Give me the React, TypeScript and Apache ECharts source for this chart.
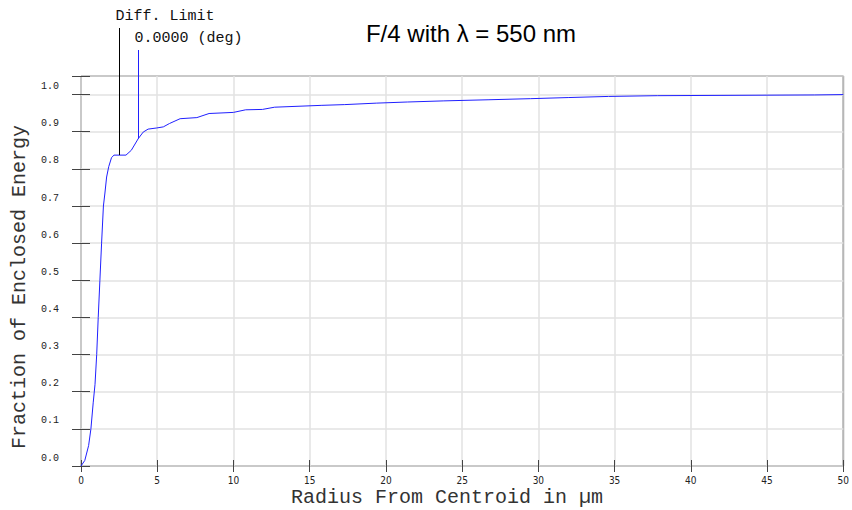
import React, { useEffect, useRef } from "react";
import * as echarts from "echarts";

// Radius from centroid (µm) and fraction of enclosed energy
const radius = [
  0, 0.25, 0.5, 0.65, 0.8, 0.92, 1.03, 1.13, 1.24, 1.35, 1.47, 1.57, 1.68, 1.82,
  2.0, 2.16, 2.5, 2.95, 3.3, 3.75, 4.08, 4.4, 4.95, 5.4, 5.8, 6.5, 7.6, 8.4,
  10.0, 10.8, 11.9, 12.7, 15.8, 17.3, 19.4, 21.4, 23.8, 26.7, 29.5, 32.0, 34.6,
  37.8, 48.1, 50,
];
const energy = [
  0, 0.015, 0.055, 0.1, 0.17, 0.22, 0.3, 0.4, 0.5, 0.6, 0.7, 0.735, 0.778, 0.806,
  0.83, 0.837, 0.837, 0.837, 0.85, 0.881, 0.899, 0.907, 0.91, 0.913, 0.922, 0.935,
  0.938, 0.949, 0.952, 0.959, 0.96, 0.966, 0.971, 0.973, 0.977, 0.98, 0.983, 0.986,
  0.989, 0.992, 0.995, 0.997, 0.999, 1.0,
];

// Markers: diffraction limit and field angle
const markerRadius = [2.5, 3.75];
const markerEnergy = [0.837, 0.881];
const markerLabels = ["Diff. Limit", "0.0000 (deg)"];
const markerColors = ["#000000", "#2020ff"];

const chartTitle = "F/4 with \u03bb = 550 nm";
const xTitle = "Radius From Centroid in \u00b5m";
const yTitle = "Fraction of Enclosed Energy";

const X_MIN = 0, X_MAX = 50, X_STEP = 5;
const Y_MIN = 0, Y_MAX = 1.05, Y_STEP = 0.1;

const MONO = '"Liberation Mono", "DejaVu Sans Mono", monospace';

export default function App() {
  const ref = useRef<HTMLDivElement>(null);
  useEffect(() => {
    const chart = echarts.init(ref.current!, undefined, { renderer: "svg" });
    const tickStyle = { color: "#444", width: 1 };
    const splitStyle = { lineStyle: { color: "#e2e2e2", width: 1.5 } };
    const markerTop = [28, 50];
    const markerTextY = [16, 38];
    chart.setOption({
      animation: false,
      backgroundColor: "#ffffff",
      grid: {
        left: 81, top: 76, width: 764, height: 390,
        show: true, borderColor: "#000", borderWidth: 1, backgroundColor: "transparent",
      },
      xAxis: [
        {
          type: "value", min: X_MIN, max: X_MAX, interval: X_STEP, position: "bottom",
          axisLine: { show: false },
          axisTick: { show: true, inside: true, length: 6, lineStyle: tickStyle },
          splitLine: { show: true, ...splitStyle },
          axisLabel: {
            margin: 9, fontSize: 10, color: "#222",
            fontFamily: '"DejaVu Sans Condensed", "Liberation Sans", sans-serif',
          },
        },
        {
          type: "value", min: X_MIN, max: X_MAX, interval: X_STEP, position: "top",
          axisLine: { show: false },
          axisTick: { show: true, inside: true, length: 6, lineStyle: tickStyle },
          splitLine: { show: false },
          axisLabel: { show: false },
        },
      ],
      yAxis: [
        {
          type: "value", min: Y_MIN, max: Y_MAX, interval: Y_STEP, position: "left",
          axisLine: { show: false },
          axisTick: { show: true, inside: true, length: 9, lineStyle: tickStyle },
          splitLine: { show: true, ...splitStyle },
          axisLabel: {
            margin: 22, fontSize: 10, color: "#222", fontFamily: MONO,
            verticalAlign: "bottom", lineHeight: 16,
            formatter: (v: number) => (v > 1.001 ? "" : v.toFixed(1)),
          },
        },
        {
          type: "value", min: Y_MIN, max: Y_MAX, interval: Y_STEP, position: "right",
          axisLine: { show: false },
          axisTick: { show: true, inside: true, length: 9, lineStyle: tickStyle },
          splitLine: { show: false },
          axisLabel: { show: false },
        },
      ],
      series: [
        {
          type: "line",
          data: radius.map((r, i) => [r, energy[i]]),
          showSymbol: false,
          symbol: "none",
          lineStyle: { color: "#2020ff", width: 1 },
          z: 3,
        },
        {
          type: "custom",
          clip: false,
          z: 4,
          data: markerRadius.map((r, i) => [r, markerEnergy[i]]),
          renderItem: (params: any, api: any) => {
            const i = params.dataIndex;
            const pt = api.coord([api.value(0), api.value(1)]);
            const x = Math.round(pt[0]) + 0.5;
            return {
              type: "group",
              children: [
                {
                  type: "line",
                  shape: { x1: x, y1: markerTop[i], x2: x, y2: pt[1] },
                  style: { stroke: markerColors[i], lineWidth: 1 },
                },
                {
                  type: "text",
                  x: x - 4,
                  y: markerTextY[i],
                  style: {
                    text: markerLabels[i], fill: "#111",
                    font: `15px ${MONO}`, align: "left", verticalAlign: "middle",
                  },
                },
              ],
            };
          },
        },
      ],
      graphic: [
        {
          type: "text", x: 471, y: 33,
          style: {
            text: chartTitle, fill: "#000", align: "center", verticalAlign: "middle",
            font: '24px "Liberation Sans", Arial, sans-serif',
          },
        },
        {
          type: "text", x: 447, y: 497,
          style: {
            text: xTitle, fill: "#333", align: "center", verticalAlign: "middle",
            font: `20px ${MONO}`,
          },
        },
        {
          type: "text", x: 19, y: 287, rotation: Math.PI / 2,
          style: {
            text: yTitle, fill: "#333", align: "center", verticalAlign: "middle",
            font: `20px ${MONO}`,
          },
        },
      ],
    });
    return () => chart.dispose();
  }, []);
  return (
    <div
      ref={ref}
      style={{ position: "fixed", left: 0, top: 0, width: 852, height: 510 }}
    />
  );
}
